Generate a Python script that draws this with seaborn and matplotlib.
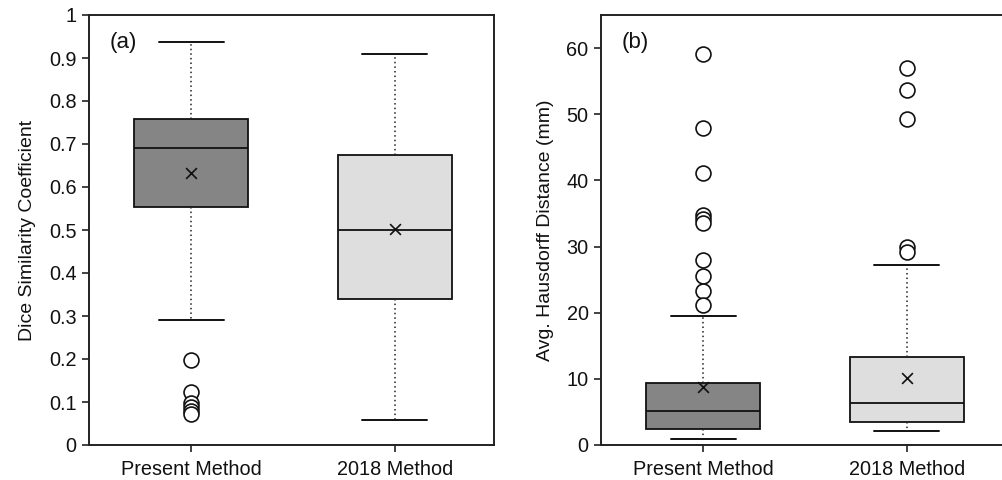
import matplotlib
matplotlib.use("Agg")
import matplotlib.pyplot as plt
import seaborn as sns
import numpy as np

# DADOS

methods = ["Present Method", "2018 Method"]
box_colors = ["#858585", "#dedede"]

# (a) Dice Similarity Coefficient
dsc_whislo = [0.291, 0.057]
dsc_q1 = [0.554, 0.340]
dsc_med = [0.691, 0.500]
dsc_q3 = [0.758, 0.674]
dsc_whishi = [0.937, 0.909]
dsc_mean = [0.633, 0.503]
dsc_out_present = [0.198, 0.124, 0.098, 0.088, 0.079, 0.071]
dsc_out_2018 = []

# (b) Avg. Hausdorff Distance (mm)
ahd_whislo = [0.86, 2.07]
ahd_q1 = [2.47, 3.53]
ahd_med = [5.09, 6.30]
ahd_q3 = [9.33, 13.26]
ahd_whishi = [19.47, 27.20]
ahd_mean = [8.8, 10.1]
ahd_out_present = [59.15, 47.9, 41.1, 34.8, 34.2, 33.6, 27.9, 25.6, 23.3, 21.2]
ahd_out_2018 = [57.0, 53.7, 49.3, 30.0, 29.2]

#%% FUNÇÕES DE APOIO

def make_stats(whislo, q1, med, q3, whishi, mean, fliers):
    stats = []
    for i in range(len(methods)):
        stats.append({"whislo": whislo[i], "q1": q1[i], "med": med[i], "q3": q3[i],
                      "whishi": whishi[i], "mean": mean[i], "fliers": fliers[i],
                      "label": methods[i]})
    return stats

def draw_panel(ax, stats, ylim, yticks, ytick_labels, ylabel, tag):
    pos = np.arange(len(stats))
    bp = ax.bxp(stats, positions=pos, widths=0.56, showfliers=False, showmeans=False,
                patch_artist=True, capwidths=0.32,
                boxprops=dict(edgecolor="#111111", linewidth=1.3),
                medianprops=dict(color="#111111", linewidth=1.3),
                whiskerprops=dict(color="#222222", linewidth=1.1, linestyle=(0, (1, 2))),
                capprops=dict(color="#111111", linewidth=1.4))
    for patch, c in zip(bp["boxes"], box_colors):
        patch.set_facecolor(c)

    # outliers
    fx, fy = [], []
    for i, s in enumerate(stats):
        fx += [pos[i]] * len(s["fliers"])
        fy += list(s["fliers"])
    sns.scatterplot(x=fx, y=fy, ax=ax, marker="o", s=115, facecolor="white",
                    edgecolor="#111111", linewidth=1.2, zorder=4)
    # médias
    sns.scatterplot(x=pos, y=[s["mean"] for s in stats], ax=ax, marker="x", s=60,
                    color="#111111", linewidth=1.2, zorder=5)

    ax.set_xlim(-0.503, 1.488)
    ax.set_ylim(*ylim)
    ax.set_xticks(pos)
    ax.set_xticklabels(methods)
    ax.set_yticks(yticks)
    ax.set_yticklabels(ytick_labels)
    ax.set_ylabel(ylabel, fontsize=14, labelpad=9, color="#111111")
    ax.tick_params(axis="both", labelsize=14.3, direction="out", length=5, width=1.2,
                   color="#222222", labelcolor="#111111", pad=4)
    ax.tick_params(axis="x", pad=6)
    for sp in ax.spines.values():
        sp.set_color("#222222")
        sp.set_linewidth(1.4)
    ax.text(0.05, 0.96, tag, transform=ax.transAxes, fontsize=16, va="top", ha="left",
            color="#111111")

#%% FIGURA

sns.set_style("ticks")
plt.rcParams["font.family"] = ["Liberation Sans", "DejaVu Sans"]

fig = plt.figure(figsize=(10.02, 4.8), dpi=100)
ax1 = fig.add_axes([89 / 1002, 1 - 445 / 480, 405 / 1002, 430 / 480])
ax2 = fig.add_axes([601 / 1002, 1 - 445 / 480, 405 / 1002, 430 / 480])

dsc_stats = make_stats(dsc_whislo, dsc_q1, dsc_med, dsc_q3, dsc_whishi, dsc_mean,
                       [dsc_out_present, dsc_out_2018])
ahd_stats = make_stats(ahd_whislo, ahd_q1, ahd_med, ahd_q3, ahd_whishi, ahd_mean,
                       [ahd_out_present, ahd_out_2018])

draw_panel(ax1, dsc_stats, (0, 1), np.arange(0, 1.01, 0.1),
           ["0", "0.1", "0.2", "0.3", "0.4", "0.5", "0.6", "0.7", "0.8", "0.9", "1"],
           "Dice Similarity Coefficient", "(a)")
draw_panel(ax2, ahd_stats, (0, 65), np.arange(0, 61, 10),
           ["0", "10", "20", "30", "40", "50", "60"],
           "Avg. Hausdorff Distance (mm)", "(b)")

fig.savefig("out.png", dpi=100)
